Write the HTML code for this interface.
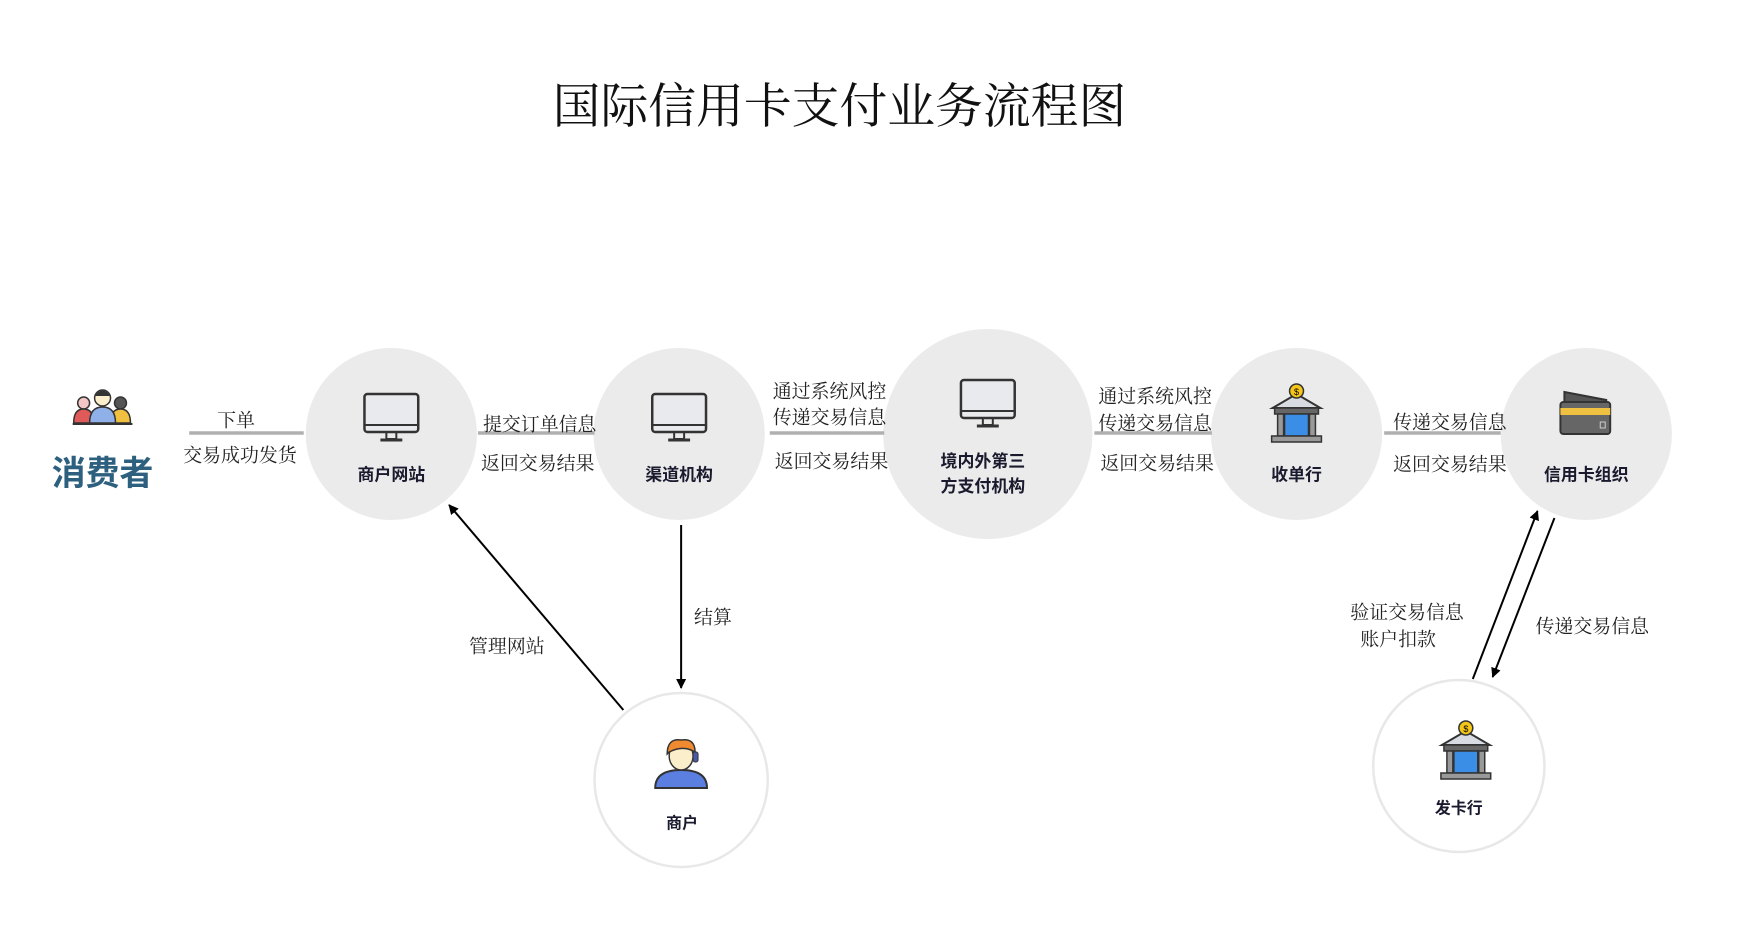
<!DOCTYPE html>
<html><head><meta charset="utf-8"><style>
html,body{margin:0;padding:0;background:#fff}
body{width:1756px;height:925px;position:relative;overflow:hidden;font-family:"Liberation Serif","Noto Serif CJK SC",serif}
#w{position:absolute;left:0;top:0;width:1756px;height:925px;transform-origin:0 0;transform:translate(-1px,-2px) scale(0.9958,1)}
.t{position:absolute;white-space:nowrap;color:#222;font-size:19px;transform:translate(-50%,-50%)}
.n{position:absolute;white-space:nowrap;font-family:"Liberation Sans","Noto Sans CJK SC",sans-serif;font-weight:bold;font-size:17px;color:#1a1a2e;transform:translate(-50%,-50%);text-align:center;line-height:25px}
</style></head><body><div id="w">
<svg width="1756" height="925" style="position:absolute;left:0;top:0">
<defs><marker id="a" markerWidth="10" markerHeight="10" refX="9" refY="5" orient="auto" markerUnits="userSpaceOnUse"><path d="M0,0 L10,5 L0,10 z" fill="#000"/></marker>
<g id="mon"><rect x="-27" y="-22" width="54" height="38" rx="3" fill="#e8eaee" stroke="#333" stroke-width="2.5"/><line x1="-27" y1="9" x2="27" y2="9" stroke="#333" stroke-width="2"/><rect x="-5" y="16" width="10" height="7" fill="none" stroke="#333" stroke-width="2"/><line x1="-11" y1="24" x2="11" y2="24" stroke="#333" stroke-width="3"/></g>
<g id="bank"><path d="M-24,-8 L0,-22 L24,-8 Z" fill="#d8dce2" stroke="#333" stroke-width="2"/><rect x="-22" y="-8" width="44" height="6" fill="#666" stroke="#333" stroke-width="1.5"/><rect x="-12" y="-2" width="24" height="22" fill="#3a8ee6" stroke="#333" stroke-width="1.5"/><rect x="-19" y="-2" width="6" height="22" fill="#999" stroke="#333" stroke-width="1.5"/><rect x="13" y="-2" width="6" height="22" fill="#999" stroke="#333" stroke-width="1.5"/><rect x="-25" y="20" width="50" height="6" fill="#999" stroke="#333" stroke-width="1.5"/><circle cx="0" cy="-25" r="7" fill="#f5c518" stroke="#333" stroke-width="1.5"/><text x="0" y="-21" font-size="9" text-anchor="middle" font-family="Liberation Sans">$</text></g>
</defs>
<g fill="#ebebeb"><circle cx="394" cy="436" r="86"/><circle cx="683" cy="436" r="86"/><circle cx="993" cy="436" r="105"/><circle cx="1303" cy="436" r="86"/><circle cx="1594" cy="436" r="86"/></g>
<circle cx="685" cy="782" r="87" fill="#fff" stroke="#e8e8e8" stroke-width="2.5"/>
<circle cx="1466" cy="768" r="86" fill="#fff" stroke="#e8e8e8" stroke-width="2.5"/>
<g stroke="#b0b0b0" stroke-width="3.5"><line x1="191" y1="435" x2="306" y2="435"/><line x1="481" y1="435" x2="598" y2="435"/><line x1="774" y1="435" x2="889" y2="435"/><line x1="1100" y1="435" x2="1218" y2="435"/><line x1="1391" y1="435" x2="1508" y2="435"/></g>
<g stroke="#000" stroke-width="2" marker-end="url(#a)"><line x1="627" y1="712" x2="452" y2="507"/><line x1="685" y1="527" x2="685" y2="690"/><line x1="1480" y1="681" x2="1545" y2="513"/><line x1="1562" y1="520" x2="1500" y2="679"/></g>
<use href="#mon" x="394" y="418"/><use href="#mon" x="683" y="418"/><use href="#mon" x="993" y="404"/>
<use href="#bank" x="1303" y="418"/><use href="#bank" x="1473" y="755"/>
<g transform="translate(1594,418)"><path d="M-22,-24 L20,-16 L20,10 L-22,2 Z" fill="#555" stroke="#333" stroke-width="2"/><rect x="-26" y="-14" width="50" height="32" rx="3" fill="#666" stroke="#333" stroke-width="2"/><rect x="-26" y="-8" width="50" height="7" fill="#f0c040"/><rect x="14" y="6" width="5" height="6" fill="none" stroke="#ccc" stroke-width="1"/></g>
<g transform="translate(104,407)"><circle cx="-19" cy="-2" r="6" fill="#f3c6c6" stroke="#333" stroke-width="1.5"/><path d="M-29,18 Q-29,4 -19,4 Q-9,4 -9,18 Z" fill="#e05a5a" stroke="#333" stroke-width="1.5"/><circle cx="18" cy="-2" r="6" fill="#555" stroke="#333" stroke-width="1.5"/><path d="M8,18 Q8,4 18,4 Q28,4 28,18 Z" fill="#f0c040" stroke="#333" stroke-width="1.5"/><circle cx="0" cy="-7" r="8" fill="#fbeecb" stroke="#333" stroke-width="1.5"/><path d="M-8,-9 Q0,-20 8,-9 Z" fill="#333"/><path d="M-13,18 Q-13,2 0,2 Q13,2 13,18 Z" fill="#8fb0e8" stroke="#333" stroke-width="1.5"/><line x1="-30" y1="19" x2="30" y2="19" stroke="#333" stroke-width="2"/></g>
<g transform="translate(685,768)"><path d="M-26,22 Q-26,4 0,4 Q26,4 26,22 Z" fill="#5b7fe0" stroke="#333" stroke-width="2"/><ellipse cx="0" cy="-10" rx="12" ry="14" fill="#fbeecb" stroke="#333" stroke-width="1.5"/><path d="M-14,-12 Q-14,-28 0,-26 Q14,-28 14,-14 L10,-16 Q0,-20 -12,-14 Z" fill="#f08a30" stroke="#333" stroke-width="1.5"/><rect x="12" y="-14" width="5" height="10" rx="2" fill="#4a5aa8" stroke="#333" stroke-width="1"/></g>
</svg>
<div class="t" style="left:844px;top:104px;font-size:48px;color:#111">国际信用卡支付业务流程图</div>
<div class="n" style="left:104px;top:476px;font-size:34px;color:#2d5f7e;line-height:40px">消费者</div>
<div class="t" style="left:238px;top:421px">下单</div>
<div class="t" style="left:242px;top:456px">交易成功发货</div>
<div class="t" style="left:543px;top:425px">提交订单信息</div>
<div class="t" style="left:541px;top:464px">返回交易结果</div>
<div class="t" style="left:834px;top:392px">通过系统风控</div>
<div class="t" style="left:834px;top:418px">传递交易信息</div>
<div class="t" style="left:836px;top:462px">返回交易结果</div>
<div class="t" style="left:1161px;top:397px">通过系统风控</div>
<div class="t" style="left:1161px;top:424px">传递交易信息</div>
<div class="t" style="left:1163px;top:464px">返回交易结果</div>
<div class="t" style="left:1457px;top:423px">传递交易信息</div>
<div class="t" style="left:1457px;top:465px">返回交易结果</div>
<div class="t" style="left:510px;top:647px">管理网站</div>
<div class="t" style="left:717px;top:618px">结算</div>
<div class="t" style="left:1414px;top:613px">验证交易信息</div>
<div class="t" style="left:1405px;top:640px">账户扣款</div>
<div class="t" style="left:1600px;top:627px">传递交易信息</div>
<div class="n" style="left:394px;top:477px">商户网站</div>
<div class="n" style="left:683px;top:477px">渠道机构</div>
<div class="n" style="left:988px;top:476px">境内外第三<br>方支付机构</div>
<div class="n" style="left:1303px;top:477px">收单行</div>
<div class="n" style="left:1594px;top:477px">信用卡组织</div>
<div class="n" style="left:686px;top:826px;font-size:16px">商户</div>
<div class="n" style="left:1466px;top:811px;font-size:16px">发卡行</div>
</div></body></html>
